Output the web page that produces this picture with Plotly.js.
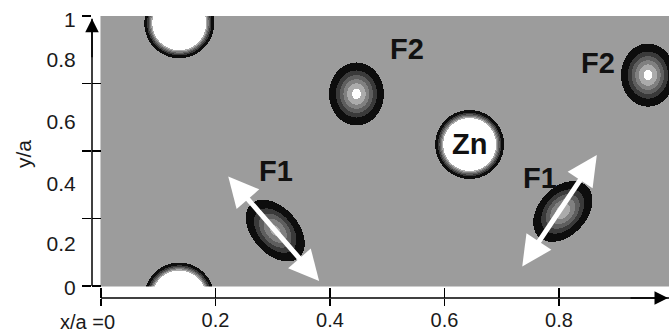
<!DOCTYPE html>
<html>
<head>
<meta charset="utf-8">
<script src="https://cdn.plot.ly/plotly-3.0.1.min.js"></script>
<style>
  html, body { margin: 0; padding: 0; background: #ffffff; }
  #chart { width: 669px; height: 333px; }
</style>
</head>
<body>
<div id="chart"></div>
<script>
// ---------------- data ----------------
// tick marks and labels
const xTickVals = [0, 0.2, 0.4, 0.6, 0.8, 1];
const xTickText = ['', '0.2', '0.4', '0.6', '0.8', '1'];
const yTickMarks = [0, 0.25, 0.5, 0.75, 1];
const yLabelPos = [-0.007, 0.156, 0.38, 0.609, 0.837, 0.985];
const yLabelText = ['0', '0.2', '0.4', '0.6', '0.8', '1'];

// density features (centres in x/a, y/a; semi-axes in screen px; angle in deg)
const blobName  = ['cornerTop', 'cornerBottom', 'Zn', 'F1a', 'F1b', 'F2a', 'F2b'];
const blobX     = [0.136, 0.136, 0.644, 0.304, 0.807, 0.446, 0.956];
const blobY     = [0.975, -0.041, 0.526, 0.207, 0.278, 0.713, 0.783];
const blobA     = [35, 35, 34.5, 36, 35, 27.5, 27];
const blobB     = [35, 35, 34.5, 23, 24, 31.5, 31.5];
const blobAngle = [0, 0, 0, -48, 47, 0, 0];
const blobPeak  = [1.3, 1.3, 1.3, 0.8, 0.85, 0.95, 0.95];
const blobKind  = ['shell', 'shell', 'shell', 'gauss', 'gauss', 'gauss', 'gauss'];

// feature labels
const labelText = ['F1', 'F1', 'F2', 'F2', 'Zn'];
const labelX    = [0.306, 0.767, 0.534, 0.868, 0.643];
const labelY    = [0.426, 0.400, 0.878, 0.826, 0.526];

// displacement arrows (double headed)
const arrowX0 = [0.220, 0.734];
const arrowY0 = [0.411, 0.067];
const arrowX1 = [0.381, 0.866];
const arrowY1 = [0.0185, 0.485];

// ---------------- layout geometry ----------------
const W = 669, H = 333;
const M = {l: 92, r: 0, t: 16, b: 35};
const xRange = [-0.0157, 0.9921];
const yRange = [-0.0444, 1];
const plotW = W - M.l - M.r, plotH = H - M.t - M.b;
const SX = plotW / (xRange[1] - xRange[0]);
const SY = plotH / (yRange[1] - yRange[0]);

// ---------------- field ----------------
const nx = Math.round(0.992 * SX), ny = Math.round(SY) + 1;
const dx = 0.992 / (nx - 1), dy = 1 / (ny - 1);
const z = [];
for (let j = 0; j < ny; j++) {
  const y = j * dy;
  const row = new Array(nx);
  for (let i = 0; i < nx; i++) {
    const x = i * dx;
    let v = 0;
    for (let k = 0; k < blobX.length; k++) {
      const du = (x - blobX[k]) * SX, dv = (y - blobY[k]) * SY;
      const th = blobAngle[k] * Math.PI / 180;
      const p = du * Math.cos(th) + dv * Math.sin(th);
      const q = -du * Math.sin(th) + dv * Math.cos(th);
      if (blobKind[k] === 'gauss') {
        const r2 = (p / blobA[k]) ** 2 + (q / blobB[k]) ** 2;
        const kk = Math.log(blobPeak[k] / 0.12);
        v += blobPeak[k] * Math.exp(-kk * r2);
      } else {
        const r = Math.sqrt((p / blobA[k]) ** 2 + (q / blobB[k]) ** 2) * blobA[k];
        const w = 2.6;
        const R0 = blobA[k] - 2.29 * w;
        v += blobPeak[k] / (1 + Math.exp((r - R0) / w));
      }
    }
    row[i] = Math.min(v, 1);
  }
  z.push(row);
}

const gray = '#9c9c9c';
const colorscale = [
  [0, gray], [0.12, gray],
  [0.12, '#0d0d0d'], [0.3, '#0d0d0d'],
  [0.3, '#3a3a3a'], [0.45, '#3a3a3a'],
  [0.45, '#5e5e5e'], [0.6, '#5e5e5e'],
  [0.6, '#808080'], [0.75, '#808080'],
  [0.75, '#ababab'], [0.9, '#ababab'],
  [0.9, '#ffffff'], [1, '#ffffff']
];

const trace = {
  type: 'heatmap',
  z: z, x0: 0, dx: dx, y0: 0, dy: dy,
  zmin: 0, zmax: 1,
  colorscale: colorscale,
  showscale: false,
  hoverinfo: 'skip'
};

const tickFont = {family: 'Liberation Sans, Arial, sans-serif', size: 20, color: '#1a1a1a'};
const yTickFont = {family: 'Liberation Sans, Arial, sans-serif', size: 21, color: '#1a1a1a'};
const boldFont = {family: 'Liberation Sans, Arial, sans-serif', size: 29, color: '#111111', weight: 'bold'};

const annotations = [];
for (let i = 0; i < labelText.length; i++) {
  annotations.push({
    x: labelX[i], y: labelY[i], xref: 'x', yref: 'y',
    text: '<b>' + labelText[i] + '</b>', showarrow: false,
    font: boldFont, xanchor: 'center', yanchor: 'middle'
  });
}
for (let i = 0; i < arrowX0.length; i++) {
  annotations.push({
    x: arrowX1[i], y: arrowY1[i], ax: arrowX0[i], ay: arrowY0[i],
    xref: 'x', yref: 'y', axref: 'x', ayref: 'y',
    text: '', showarrow: true, arrowside: 'end+start',
    arrowhead: 2, startarrowhead: 2, arrowsize: 1.2, startarrowsize: 1.2,
    arrowwidth: 5, arrowcolor: '#ffffff', standoff: 0, startstandoff: 0
  });
}
// axis arrows
annotations.push({
  x: 0, y: 0.99, xref: 'paper', yref: 'y', ax: 0, ay: 40,
  text: '', showarrow: true, arrowhead: 2, arrowsize: 1.8, arrowwidth: 1.5, arrowcolor: '#000'
});
annotations.push({
  x: 1, y: 0, xref: 'paper', yref: 'paper', ax: -40, ay: 0,
  text: '', showarrow: true, arrowhead: 2, arrowsize: 1.8, arrowwidth: 1.5, arrowcolor: '#000'
});
// axis titles
annotations.push({
  x: (23 - M.l) / plotW, y: (H - M.b - 154) / plotH, xref: 'paper', yref: 'paper',
  text: 'y/a', textangle: -90, showarrow: false, font: yTickFont,
  xanchor: 'center', yanchor: 'middle'
});
annotations.push({
  x: (87 - M.l) / plotW, y: (H - M.b - 322) / plotH, xref: 'paper', yref: 'paper',
  text: 'x/a =0', showarrow: false, font: tickFont,
  xanchor: 'center', yanchor: 'middle'
});

const shapes = [
  {type: 'line', xref: 'paper', yref: 'y', x0: 0, x1: 0, y0: 0, y1: 0.99,
   line: {color: '#000', width: 1.5}},
  {type: 'line', xref: 'x', yref: 'paper', x0: 0, x1: xRange[1], y0: 0, y1: 0,
   line: {color: '#000', width: 1.5}}
];

const layout = {
  width: W, height: H,
  margin: M,
  paper_bgcolor: '#ffffff', plot_bgcolor: '#ffffff',
  showlegend: false,
  xaxis: {
    range: xRange, showgrid: false, zeroline: false, showline: false,
    tickmode: 'array', tickvals: xTickVals, ticktext: xTickText,
    ticks: 'outside', ticklen: 4, tickcolor: 'rgba(0,0,0,0)',
    tickfont: tickFont, fixedrange: true
  },
  xaxis2: {
    overlaying: 'x', matches: 'x', anchor: 'y', side: 'bottom',
    showgrid: false, zeroline: false, showline: false,
    tickmode: 'array', tickvals: xTickVals, showticklabels: false,
    ticks: 'inside', ticklen: 10, tickwidth: 1.5, tickcolor: '#000'
  },
  xaxis3: {
    overlaying: 'x', matches: 'x', anchor: 'y', side: 'bottom',
    showgrid: false, zeroline: false, showline: false,
    tickmode: 'array', tickvals: xTickVals, showticklabels: false,
    ticks: 'outside', ticklen: 7, tickwidth: 1.5, tickcolor: '#000'
  },
  yaxis: {
    range: yRange, showgrid: false, zeroline: false, showline: false,
    tickmode: 'array', tickvals: yTickMarks, showticklabels: false,
    ticks: 'outside', ticklen: 9, tickwidth: 1.5, tickcolor: '#000', fixedrange: true
  },
  yaxis2: {
    overlaying: 'y', matches: 'y', anchor: 'x', side: 'left',
    showgrid: false, zeroline: false, showline: false,
    tickmode: 'array', tickvals: yTickMarks, showticklabels: false,
    ticks: 'inside', ticklen: 9, tickwidth: 1.5, tickcolor: '#000'
  },
  yaxis3: {
    overlaying: 'y', matches: 'y', anchor: 'x', side: 'left',
    showgrid: false, zeroline: false, showline: false,
    tickmode: 'array', tickvals: yLabelPos, ticktext: yLabelText,
    ticks: 'outside', ticklen: 11, tickcolor: 'rgba(0,0,0,0)',
    tickfont: yTickFont
  },
  annotations: annotations,
  shapes: shapes
};

const dummy2 = {type: 'scatter', x: [], y: [], xaxis: 'x2', yaxis: 'y2', hoverinfo: 'skip'};
const dummy3 = {type: 'scatter', x: [], y: [], xaxis: 'x', yaxis: 'y3', hoverinfo: 'skip'};
const dummy4 = {type: 'scatter', x: [], y: [], xaxis: 'x3', yaxis: 'y', hoverinfo: 'skip'};

Plotly.newPlot('chart', [trace, dummy2, dummy3, dummy4], layout, {displayModeBar: false, staticPlot: true});
</script>
</body>
</html>
